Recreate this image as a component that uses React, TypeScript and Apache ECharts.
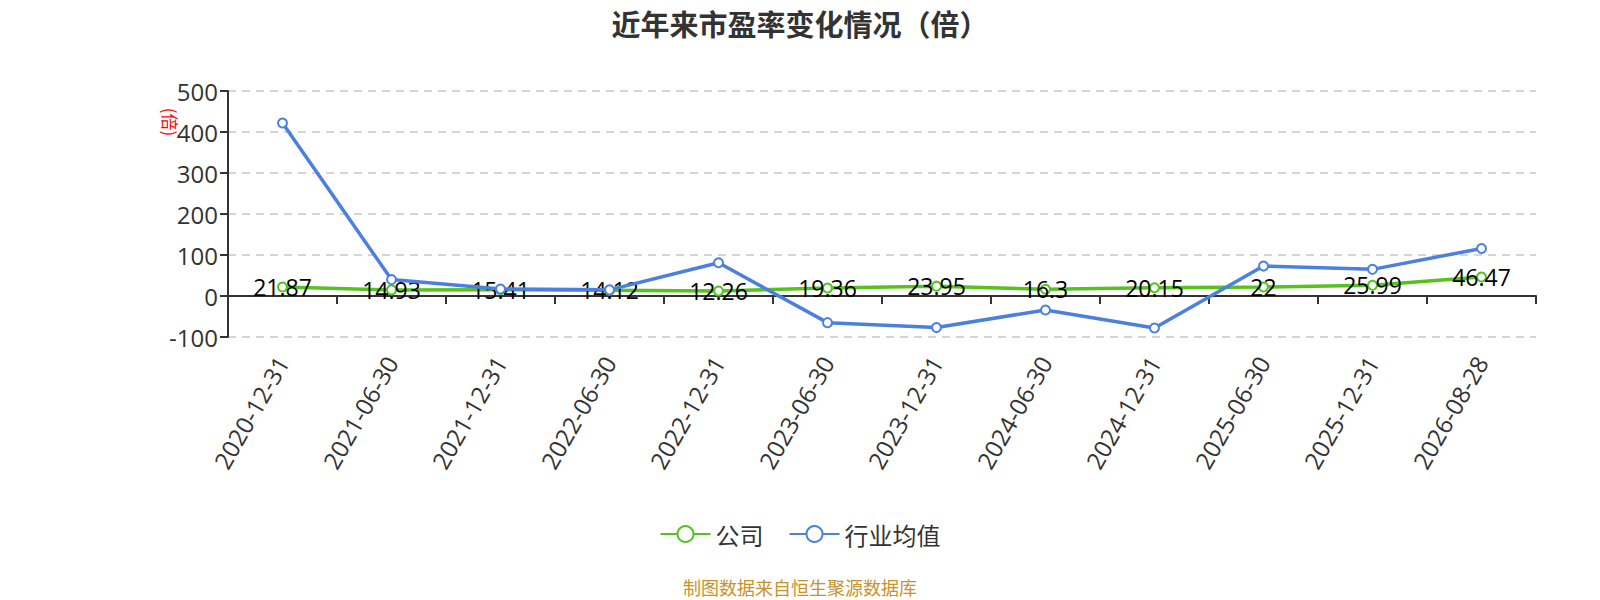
import React, { useEffect, useRef } from "react";
import * as echarts from "echarts";

const categories = [
  "2020-12-31", "2021-06-30", "2021-12-31", "2022-06-30", "2022-12-31", "2023-06-30",
  "2023-12-31", "2024-06-30", "2024-12-31", "2025-06-30", "2025-12-31", "2026-08-28",
];
const companyValues = [21.87, 14.93, 15.41, 14.12, 12.26, 19.36, 23.95, 16.3, 20.15, 22, 25.99, 46.47];
const industryValues = [422, 40, 17, 15, 81, -65, -77, -34, -78, 73, 65, 116];
const yMin = -100;
const yMax = 500;
const yInterval = 100;

const FONT = "'Open Sans', 'Noto Sans CJK SC', sans-serif";
const CJK = "'Noto Sans CJK SC', sans-serif";
const GREEN = "#56c31c";
const BLUE = "#4b80e0";

export default function App() {
  const ref = useRef<HTMLDivElement>(null);
  useEffect(() => {
    document.body.style.margin = "0";
    const chart = echarts.init(ref.current!, null, { renderer: "svg" });
    chart.setOption({
      animation: false,
      backgroundColor: "#ffffff",
      textStyle: { fontFamily: FONT },
      title: {
        text: "近年来市盈率变化情况（倍）",
        left: "center",
        top: 3,
        textStyle: { fontSize: 29, fontWeight: "bold", color: "#333", fontFamily: CJK },
      },
      legend: {
        bottom: 49,
        left: "center",
        itemWidth: 50,
        itemHeight: 20,
        itemGap: 25,
        textStyle: { fontSize: 24, color: "#333", fontFamily: CJK },
        data: ["公司", "行业均值"],
      },
      grid: { left: 228, right: 64, top: 91, bottom: 263, containLabel: false },
      xAxis: {
        type: "category",
        data: categories,
        boundaryGap: true,
        axisLine: { onZero: true, lineStyle: { color: "#333", width: 2 } },
        axisTick: { show: true, alignWithLabel: false, length: 8, lineStyle: { color: "#333", width: 2 } },
        axisLabel: { rotate: 60, fontSize: 24, color: "#333", margin: 21, interval: 0, fontFamily: FONT },
        splitLine: { show: false },
      },
      yAxis: {
        type: "value",
        min: yMin,
        max: yMax,
        interval: yInterval,
        axisLine: { show: true, lineStyle: { color: "#333", width: 2 } },
        axisTick: { show: true, length: 8, lineStyle: { color: "#333", width: 2 } },
        axisLabel: { fontSize: 24, color: "#333", margin: 10, fontFamily: FONT },
        splitLine: { show: true, lineStyle: { type: [8, 6], color: "#c8c8c8", width: 1.5 } },
      },
      graphic: [
        {
          type: "text",
          x: 170,
          y: 122,
          rotation: -Math.PI / 2,
          style: {
            text: "(倍)",
            fill: "#ff0000",
            fontSize: 17,
            fontFamily: CJK,
            align: "center",
            verticalAlign: "middle",
          },
        },
        {
          type: "text",
          left: "center",
          top: 578,
          style: {
            text: "制图数据来自恒生聚源数据库",
            fill: "#c8922a",
            fontSize: 18,
            fontFamily: CJK,
          },
        },
      ],
      series: [
        {
          name: "公司",
          type: "line",
          data: companyValues,
          color: GREEN,
          symbol: "circle",
          symbolSize: 9,
          lineStyle: { width: 3.5, color: GREEN },
          itemStyle: { color: "#fff", borderColor: GREEN, borderWidth: 2 },
          label: { show: true, position: "inside", fontSize: 23, color: "#000", fontFamily: FONT },
          z: 2,
        },
        {
          name: "行业均值",
          type: "line",
          data: industryValues,
          color: BLUE,
          symbol: "circle",
          symbolSize: 9,
          lineStyle: { width: 3.5, color: BLUE },
          itemStyle: { color: "#fff", borderColor: BLUE, borderWidth: 2 },
          label: { show: false },
          z: 3,
        },
      ],
    });
    return () => chart.dispose();
  }, []);
  return <div ref={ref} style={{ width: 1600, height: 600 }} />;
}
